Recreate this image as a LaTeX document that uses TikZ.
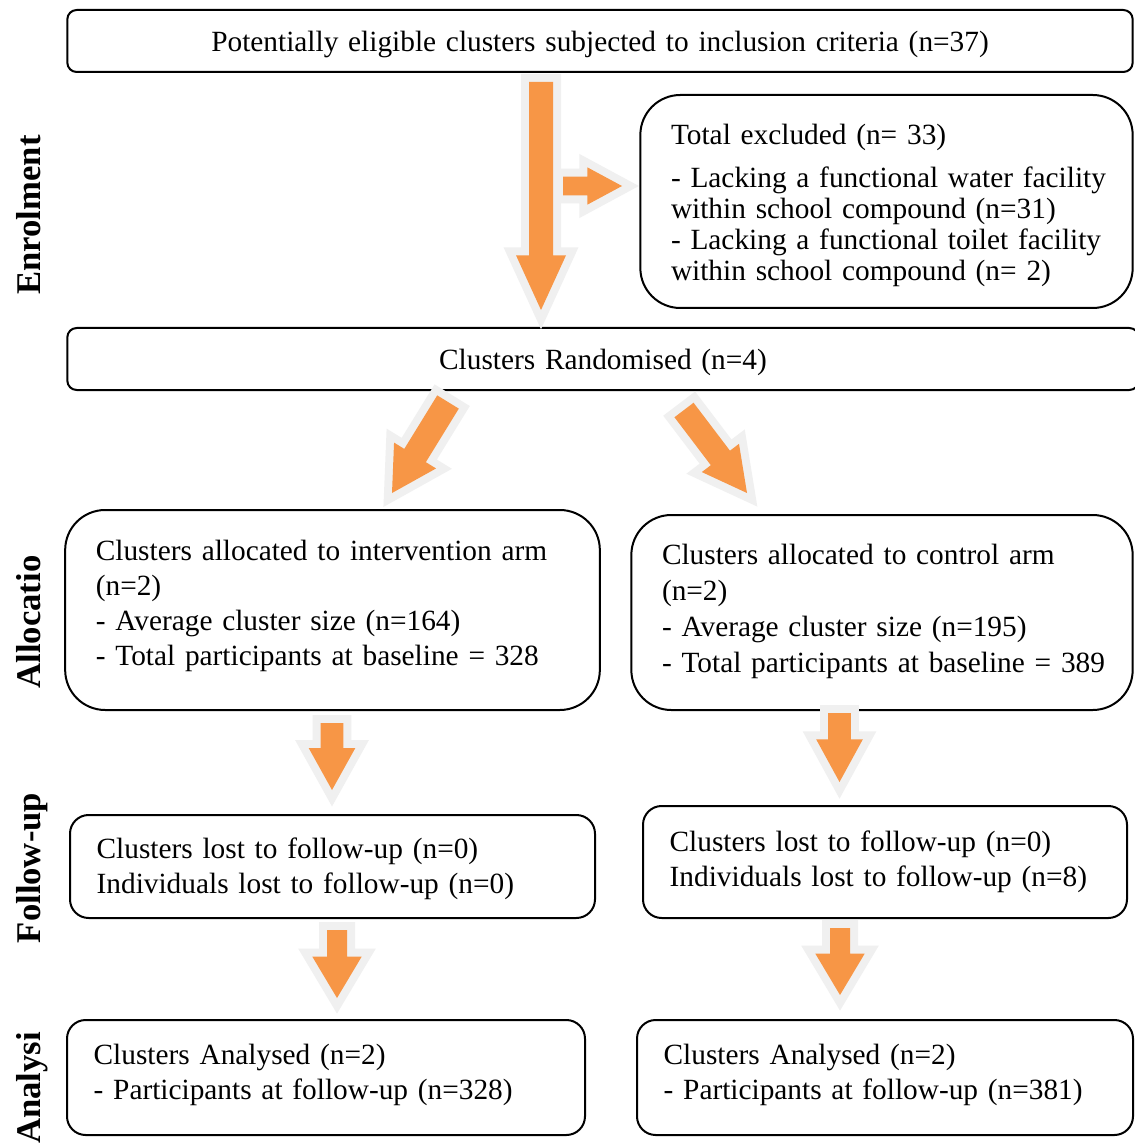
\documentclass[tikz,border=0pt]{standalone}
\usepackage{fontspec}
\setmainfont{Liberation Serif}
\usepackage{tikz}
\usetikzlibrary{calc}
\definecolor{arroworange}{RGB}{247,150,70}
\definecolor{arrowhalo}{RGB}{240,240,240}

% block arrow: tail, tip, half shaft, half head, head length
\newcommand{\fatarrow}[5]{%
  \coordinate (#2-base) at ($(#2)!#5!(#1)$);
  \path[arrowbody] ($(#1)!#3!90:(#2)$) -- ($(#2-base)!#3!90:(#2)$)
    -- ($(#2-base)!#4!90:(#2)$) -- (#2) -- ($(#2-base)!#4!-90:(#2)$)
    -- ($(#2-base)!#3!-90:(#2)$) -- ($(#1)!#3!-90:(#2)$) -- cycle;}
% unbroken lines inside a box, optional vertical nudge
\newcommand{\boxlines}[2][0pt]{\raisebox{#1}[\height][\depth]{\begin{tabular}{@{}l@{}}#2\end{tabular}}}

\begin{document}
\begin{tikzpicture}[x=0.75pt,y=-0.75pt,
    box/.style={draw, line width=1.5pt, align=left, inner xsep=23pt, inner ysep=0pt,
      font=\fontsize{22}{26.25}\selectfont},
    smallbox/.style={box, inner xsep=20pt, rounded corners=14pt},
    sidelabel/.style={rotate=90, anchor=base, font=\bfseries\fontsize{26}{30}\selectfont},
    arrowbody/.style={fill=arroworange,
      preaction={draw=arrowhalo, line width=12pt, line join=miter}}]
    \fill[white] (0,0) rectangle (1134,1144);
    \useasboundingbox (0,0) rectangle (1134,1144);

    % Stage labels
    \node[sidelabel] (enrol) at (40,215) {Enrolment};
    \node[sidelabel] (alloc) at (40,622) {Allocatio};
    \node[sidelabel] (follow) at (40,868) {Follow-up};
    \node[sidelabel] (analys) at (40,1088) {Analysi};

    % Enrolment
    \node[box, align=center, text width=753pt, minimum height=46.5pt, rounded corners=7pt]
      (eligible) at (600,41) {\boxlines[-3pt]{Potentially eligible clusters subjected to inclusion criteria (n=37)}};
    \node[box, text width=323.25pt, minimum height=159.75pt, rounded corners=30pt,
      font=\fontsize{22}{23.25}\selectfont] (excluded) at (886.5,201.5)
      {\boxlines[-3.75pt]{Total excluded (n= 33)\\[9pt]- Lacking a functional water facility\\within school compound (n=31)\\- Lacking a functional toilet facility\\within school compound (n= 2)}};
    \node[box, align=center, text width=757.5pt, minimum height=46.5pt, rounded corners=7pt]
      (random) at (603,359) {\boxlines[-3pt]{Clusters Randomised (n=4)}};

    % Allocation
    \node[box, text width=355pt, minimum height=150pt, rounded corners=30pt]
      (interv) at (332.5,610)
      {\boxlines[3pt]{Clusters allocated to intervention arm\\(n=2)\\- Average cluster size (n=164)\\- Total participants at baseline = 328}};
    \node[box, text width=330pt, minimum height=146.25pt, rounded corners=30pt,
      font=\fontsize{22}{27}\selectfont]
      (control) at (882,612.5)
      {\boxlines[1pt]{Clusters allocated to control arm\\(n=2)\\- Average cluster size (n=195)\\- Total participants at baseline = 389}};

    % Follow-up
    \node[smallbox, text width=353.75pt, minimum height=77.25pt]
      (lostint) at (332.5,866.5) {\boxlines[-1.5pt]{Clusters lost to follow-up (n=0)\\Individuals lost to follow-up (n=0)}};
    \node[smallbox, text width=323pt, minimum height=84pt]
      (lostctl) at (885,862) {\boxlines{Clusters lost to follow-up (n=0)\\Individuals lost to follow-up (n=8)}};

    % Analysis
    \node[smallbox, text width=348.5pt, minimum height=86.25pt]
      (anaint) at (326,1077.5) {\boxlines[2.25pt]{Clusters Analysed (n=2)\\- Participants at follow-up (n=328)}};
    \node[smallbox, text width=332pt, minimum height=86.25pt]
      (anactl) at (885,1077.5) {\boxlines[2.25pt]{Clusters Analysed (n=2)\\- Participants at follow-up (n=381)}};

    % Arrows
    \coordinate (a1) at (541,82);    \coordinate (a1tip) at (541,310);
    \coordinate (a2) at (563,186);   \coordinate (a2tip) at (622,186);
    \coordinate (a3) at (448,402);   \coordinate (a3tip) at (392,493);
    \coordinate (a4) at (684,410);   \coordinate (a4tip) at (747,493);
    \coordinate (a5) at (332,723);   \coordinate (a5tip) at (332,790);
    \coordinate (a6) at (839.5,713); \coordinate (a6tip) at (839.5,782);
    \coordinate (a7) at (337,930);   \coordinate (a7tip) at (337,998);
    \coordinate (a8) at (840,928);   \coordinate (a8tip) at (840,995);
    \fatarrow{a1}{a1tip}{9pt}{18.75pt}{41pt}
    \fatarrow{a2}{a2tip}{7pt}{14pt}{26pt}
    \fatarrow{a3}{a3tip}{9.5pt}{18.5pt}{33pt}
    \fatarrow{a4}{a4tip}{9pt}{17.5pt}{33pt}
    \fatarrow{a5}{a5tip}{8.5pt}{17.5pt}{31.5pt}
    \fatarrow{a6}{a6tip}{8.5pt}{17.5pt}{32pt}
    \fatarrow{a7}{a7tip}{7.5pt}{18.5pt}{31pt}
    \fatarrow{a8}{a8tip}{7.5pt}{18.5pt}{31pt}
\end{tikzpicture}
\end{document}
